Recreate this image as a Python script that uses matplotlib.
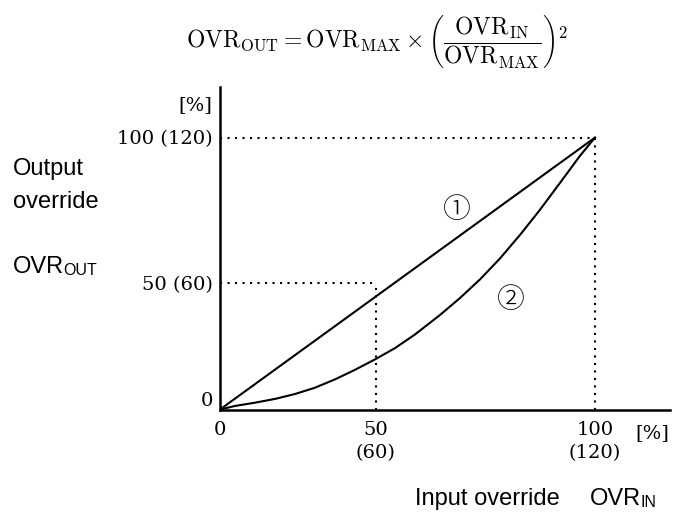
import numpy as np
import matplotlib.pyplot as plt

# Curve points (percent of full scale)
x_lin = [0, 100]
y_lin = [0, 100]

x_sq = [0, 4.0, 9.3, 14.7, 20.0, 25.3, 30.7, 36.0, 41.3, 46.7, 52.0,
        58.7, 64.0, 69.3, 74.7, 80.0, 85.3, 90.7, 96.0, 100]
y_sq = [0, 1.3, 2.5, 3.9, 5.7, 8.0, 11.1, 14.6, 18.4, 22.6, 27.6,
        34.8, 41.0, 47.8, 55.6, 64.2, 73.4, 83.4, 93.3, 100]

# Guide positions (where the "50 (60)" guides sit in the sketch)
x_mid, y_mid = 41.5, 46.6
x_ticks = [0, x_mid, 100]
x_tick_labels = ["0", "50\n(60)", "100\n(120)"]
y_ticks = [0, y_mid, 100]
y_tick_labels = ["0", "50 (60)", "100 (120)"]

plt.rcParams["mathtext.fontset"] = "cm"
serif = "DejaVu Serif"
sans = "Liberation Sans"
circ = ["Noto Sans CJK JP", "DejaVu Sans"]

fig = plt.figure(figsize=(6.75, 5.13), dpi=100)
ax = fig.add_axes([220 / 675, 103.5 / 513, 450 / 675, 322.5 / 513])
ax.set_xlim(0, 120)
ax.set_ylim(0, 118.6)

for s in ["top", "right"]:
    ax.spines[s].set_visible(False)
for s in ["left", "bottom"]:
    ax.spines[s].set_linewidth(1.8)

# curves
ax.plot(x_lin, y_lin, color="black", lw=1.5, solid_capstyle="round")
ax.plot(x_sq, y_sq, color="black", lw=1.5, solid_joinstyle="round")

# dotted guides
dot = dict(color="black", lw=1.5, linestyle=(0, (1, 2.6)))
ax.plot([0, 100], [100, 100], **dot)
ax.plot([100, 100], [0, 100], **dot)
ax.plot([0, x_mid], [y_mid, y_mid], **dot)
ax.plot([x_mid, x_mid], [0, y_mid], **dot)

ax.set_xticks(x_ticks)
ax.set_xticklabels(x_tick_labels, fontfamily=serif, fontsize=14, linespacing=1.4)
ax.set_yticks(y_ticks)
ax.set_yticklabels(y_tick_labels, fontfamily=serif, fontsize=14)
ax.get_yticklabels()[0].set_va("bottom")
ax.tick_params(axis="x", length=0, pad=8)
ax.tick_params(axis="y", length=0, pad=5)

ax.text(-2.0, 112, "[%]", ha="right", va="center", fontfamily=serif, fontsize=14)
ax.text(115.2, -8.6, "[%]", ha="center", va="center", fontfamily=serif, fontsize=14)

ax.text(63.1, 73.3, "①", ha="center", va="center", fontsize=20,
        family=circ, fontweight="light")
ax.text(77.6, 40.3, "②", ha="center", va="center", fontsize=20,
        family=circ, fontweight="light")


def px(x, y):
    # pixel position (from top-left) -> figure fraction
    return x / 675, 1 - y / 513


# side labels
fs = 17
fs_sub = 11.5
fig.text(*px(13, 175), "Output", ha="left", va="baseline", fontfamily=sans, fontsize=fs)
fig.text(*px(13, 208), "override", ha="left", va="baseline", fontfamily=sans, fontsize=fs)
fig.text(*px(13, 273), "OVR", ha="left", va="baseline", fontfamily=sans, fontsize=fs)
fig.text(*px(63, 275), "OUT", ha="left", va="baseline", fontfamily=sans, fontsize=fs_sub)

fig.text(*px(415, 505), "Input override", ha="left", va="baseline",
         fontfamily=sans, fontsize=fs)
fig.text(*px(590, 505), "OVR", ha="left", va="baseline", fontfamily=sans, fontsize=fs)
fig.text(*px(640, 507), "IN", ha="left", va="baseline", fontfamily=sans, fontsize=fs_sub)

# formula
fig.text(*px(377, 42),
         r"$\mathrm{OVR_{OUT}} = \mathrm{OVR_{MAX}} \times "
         r"\left(\dfrac{\mathrm{OVR_{IN}}}{\mathrm{OVR_{MAX}}}\right)^2$",
         ha="center", va="center", fontsize=17)

fig.savefig("out.png", dpi=100)
